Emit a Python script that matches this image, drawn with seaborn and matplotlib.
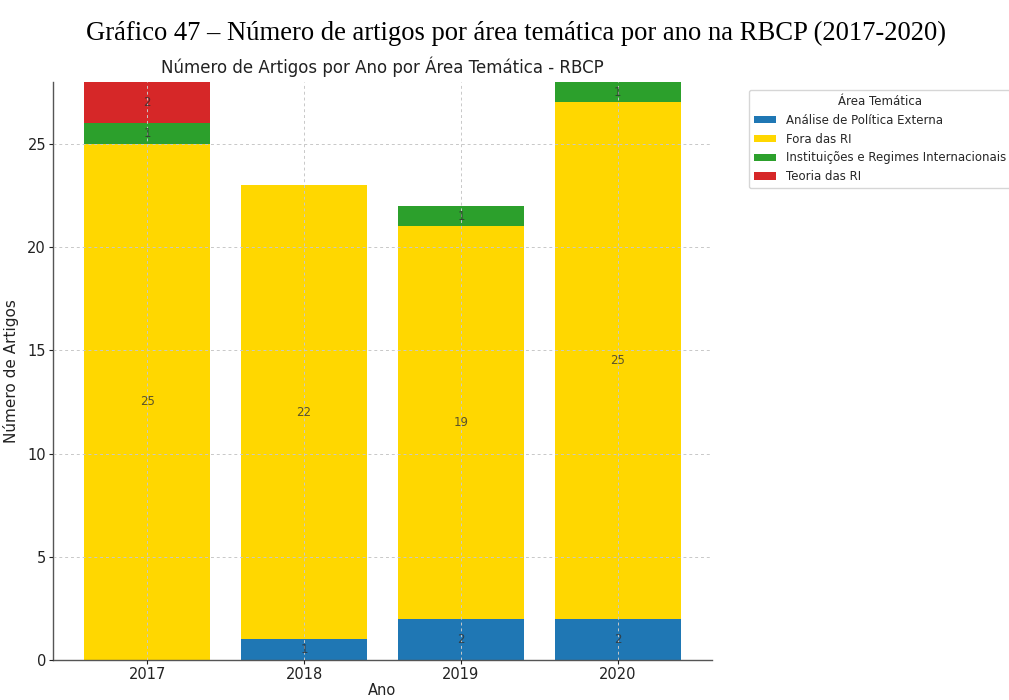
import matplotlib
matplotlib.use("Agg")
import matplotlib.pyplot as plt
import seaborn as sns
import numpy as np

years = ["2017", "2018", "2019", "2020"]
areas = ["Análise de Política Externa", "Fora das RI",
         "Instituições e Regimes Internacionais", "Teoria das RI"]
analise_pe = [0, 1, 2, 2]
fora_ri = [25, 22, 19, 25]
instituicoes = [1, 0, 1, 1]
teoria_ri = [2, 0, 0, 0]
colors = ["#1f77b4", "#ffd700", "#2ca02c", "#d62728"]

sns.set_theme(style="white")
plt.rcParams['font.family'] = ['DejaVu Sans']

fig = plt.figure(figsize=(10.09, 7.0), dpi=100)
ax = fig.add_axes([0.0525, 0.0571, 0.6532, 0.826])

series = [analise_pe, fora_ri, instituicoes, teoria_ri]
bottom = np.zeros(len(years))
handles = []
for name, vals, c in zip(areas, series, colors):
    sns.barplot(x=years, y=vals, bottom=bottom, color=c, width=0.8,
                linewidth=0, ax=ax, label=name, saturation=1)
    cont = ax.containers[-1]
    handles.append(cont)
    ax.bar_label(cont, labels=[str(v) if v > 0 else "" for v in vals],
                 label_type="center", color="#333333", fontsize=8.5, alpha=0.8)
    bottom = bottom + np.array(vals)

ax.set_ylim(0, 28)
ax.set_xlim(-0.6, 3.6)
ax.set_yticks([0, 5, 10, 15, 20, 25])
ax.grid(True, linestyle=(0, (3, 3)), color="#c8c8c8", linewidth=0.7)
ax.set_axisbelow(False)
sns.despine(ax=ax)
for s in ["left", "bottom"]:
    ax.spines[s].set_color("#555555")
    ax.spines[s].set_linewidth(1.0)
ax.tick_params(axis="both", labelsize=10.5, colors="#222222", length=3, width=0.8,
               left=True, bottom=True, pad=2)
ax.set_xlabel("Ano", fontsize=10.5, color="#222222", labelpad=1)
ax.set_ylabel("Número de Artigos", fontsize=11, color="#222222", labelpad=6)
ax.set_title("Número de Artigos por Ano por Área Temática - RBCP", fontsize=12,
             color="#222222", pad=6)
if ax.get_legend():
    ax.get_legend().remove()

leg = fig.legend(handles=handles, labels=areas, title="Área Temática",
                 loc="upper left", bbox_to_anchor=(749/1009, 1 - 90/700),
                 fontsize=8.5, title_fontsize=8.5, frameon=True,
                 handlelength=1.9, handleheight=0.6, borderpad=0.4,
                 borderaxespad=0, labelspacing=0.5, handletextpad=0.8)
leg.get_frame().set_edgecolor("#cccccc")

fig.text(0.511, 1 - 33/700, "Gráfico 47 – Número de artigos por área temática por ano na RBCP (2017-2020)",
         ha="center", va="center", fontsize=19.2, family="Liberation Serif", color="black")

fig.savefig("out.png", dpi=100)
